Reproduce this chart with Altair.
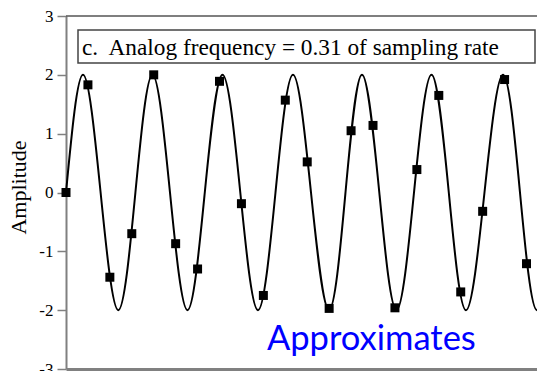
import altair as alt
import pandas as pd

# Analog curve: zero crossings, peaks and troughs (x in sample units)
curve_x = [0, 0.775, 1.578, 2.385, 3.165, 3.944, 4.742, 5.540, 6.329, 7.136, 7.948,
           8.755, 9.553, 10.351, 11.172, 11.993, 12.745, 13.497, 14.287, 15.071,
           15.869, 16.667, 17.456, 18.240, 19.083, 19.927, 20.702, 21.477, 22.298,
           23.119, 23.894]
curve_y = [0, 2, 0, -2, 0, 2, 0, -2, 0, 2, 0, -2, 0, 2, 0, -2, 0, 2, 0, -2,
           0, 2, 0, -2, 0, 2, 0, -2, 0, 2, 0]

# Sampled values (one per sample number)
sample_n = list(range(23))
sample_y = [0, 1.83, -1.44, -0.70, 2.0, -0.87, -1.30, 1.89, -0.19, -1.75, 1.57,
            0.52, -1.97, 1.05, 1.14, -1.96, 0.39, 1.65, -1.69, -0.32, 1.92,
            -1.21, -1.01]

y_ticks = [-3, -2, -1, 0, 1, 2, 3]
title_text = "c.\u00a0 Analog frequency = 0.31 of sampling rate"
note_text = "Approximates"

curve_df = pd.DataFrame({"x": curve_x, "y": curve_y, "o": list(range(len(curve_x)))})
samp_df = pd.DataFrame({"x": sample_n, "y": sample_y})

SERIF = "Liberation Serif"
PLOT_W = 471

x_enc = alt.X("x:Q", scale=alt.Scale(domain=[0, 21.478], nice=False, zero=False),
              axis=alt.Axis(labels=False, ticks=False, grid=False, domainColor="#808080",
                            domainWidth=3, title=None))
y_enc = alt.Y("y:Q", scale=alt.Scale(domain=[-3, 3], nice=False, zero=False),
              axis=alt.Axis(values=y_ticks, grid=False, domainColor="#808080", domainWidth=2,
                            tickColor="#808080", tickWidth=1.5, tickSize=9,
                            labelFont=SERIF, labelFontSize=17, labelColor="black",
                            labelPadding=4,
                            labelExpr="datum.value < 0 ? '-' + toString(-datum.value) : toString(datum.value)",
                            title="Amplitude", titleFont=SERIF, titleFontSize=22,
                            titleFontWeight="normal", titleColor="black",
                            titleX=-36, titleY=171, titleAngle=270,
                            titleBaseline="bottom", titleAlign="center"))

line = alt.Chart(curve_df).mark_line(color="black", strokeWidth=2, interpolate="natural").encode(
    x=x_enc, y=y_enc, order="o:Q")

pts = alt.Chart(samp_df).mark_point(shape="square", filled=True, color="black", size=81, opacity=1).encode(
    x=alt.X("x:Q"), y=alt.Y("y:Q"))

one = pd.DataFrame({"t": [title_text]})
top_rule = alt.Chart(one).mark_rule(color="#555555", strokeWidth=1.5).encode(
    x=alt.value(0), x2=alt.value(PLOT_W), y=alt.value(0))

box = alt.Chart(one).mark_rect(fill="white", stroke="#444444", strokeWidth=1.5).encode(
    x=alt.value(12), x2=alt.value(469), y=alt.value(14), y2=alt.value(47))

title = alt.Chart(one).mark_text(align="left", baseline="alphabetic", font=SERIF,
                                 fontSize=23.3, color="black").encode(
    x=alt.value(16), y=alt.value(39), text="t:N")

note = alt.Chart(pd.DataFrame({"t": [note_text]})).mark_text(
    align="left", baseline="alphabetic", font="Lato", fontSize=34.5, color="#0000ff").encode(
    x=alt.value(201), y=alt.value(334), text="t:N")

chart = alt.layer(line, pts, top_rule, box, title, note).properties(
    width=PLOT_W, height=353,
    autosize=alt.AutoSizeParams(type="none"),
    padding={"left": 58, "top": 8, "right": 0, "bottom": 2},
    background="white",
).configure_view(stroke=None)

chart.save("out.html", embed_options={"renderer": "svg", "actions": False})
